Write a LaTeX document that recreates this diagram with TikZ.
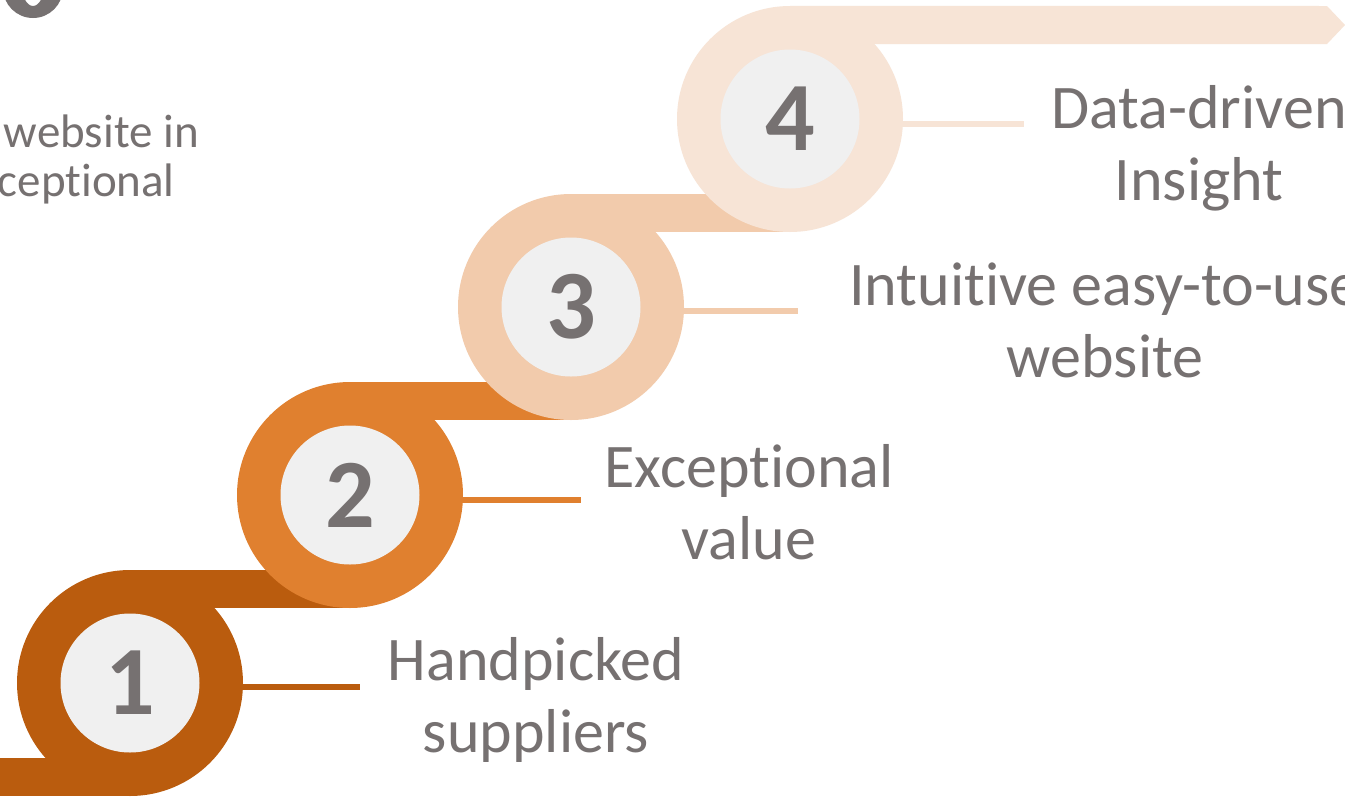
\documentclass[tikz,border=0pt]{standalone}
\usepackage{fontspec}
\setmainfont{Carlito}[Ligatures=NoCommon]
\definecolor{cA}{HTML}{BA5C0E}
\definecolor{cB}{HTML}{E0802F}
\definecolor{cC}{HTML}{F2CBAC}
\definecolor{cD}{HTML}{F7E4D6}
\definecolor{discfill}{HTML}{F0F0F0}
\definecolor{txt}{HTML}{767171}
\pgfdeclarelayer{bg}
\pgfsetlayers{bg,main}
\begin{document}
\begin{tikzpicture}[x=1pt,y=-1pt,
  ring/.style={circle,minimum size=226pt,inner sep=0pt,fill=#1},
  disc/.style={circle,minimum size=139pt,inner sep=0pt,fill=discfill,text=txt,
    font=\fontsize{98}{98}\selectfont\bfseries},
  lead/.style={line width=6pt,draw=#1},
  lbl/.style={align=center,anchor=base,inner sep=0pt,text=txt,
    font=\fontsize{62}{72.5}\selectfont},
  side/.style={anchor=base east,inner sep=0pt,text=txt,
    font=\fontsize{47}{48}\selectfont}]
\useasboundingbox (0,0) rectangle (1345,801);

% circles
\node[ring=cA] (s1) at (130,683) {};
\node[disc] (n1) at (s1) {1};
\node[ring=cB] (s2) at (350,495) {};
\node[disc] (n2) at (s2) {2};
\node[ring=cC] (s3) at (571,307) {};
\node[disc] (n3) at (s3) {3};
\node[ring=cD] (s4) at (790,119) {};
\node[disc] (n4) at (s4) {4};

% leader ends and arrow tip
\coordinate (e1) at (360,687);
\coordinate (e2) at (581,500);
\coordinate (e3) at (798,311);
\coordinate (e4) at (1024,124);
\coordinate (start) at (0,758);
\coordinate (tipA) at (1327,6);
\coordinate (tip) at (1345,25);
\coordinate (tipB) at (1327,44);

\begin{pgfonlayer}{bg}
  \fill[white] (0,0) rectangle (1345,801);
  \fill[cA] (start) rectangle (s1.south);
  \fill[cA] (s1.north) rectangle (s2.south);
  \fill[cB] (s2.north) rectangle (s3.south);
  \fill[cC] (s3.north) rectangle (s4.south);
  \fill[cD] (s4.north) -- (tipA) -- (tip) -- (tipB) -- (s4.north |- tipB) -- cycle;
  \draw[lead=cA] (s1.center |- e1) -- (e1);
  \draw[lead=cB] (s2.center |- e2) -- (e2);
  \draw[lead=cC] (s3.center |- e3) -- (e3);
  \draw[lead=cD] (s4.center |- e4) -- (e4);
\end{pgfonlayer}

% labels (anchored at the baseline of their last line)
\node[lbl] (t1) at (536,752.5) {Handpicked\\suppliers};
\node[lbl] (t2) at (749,559.5) {Exceptional\\value};
\node[lbl] (t3) at (1105,377.5) {Intuitive easy-to-use\\website};
\node[lbl] (t4) at (1199,200.5) {Data-driven\\Insight};

% cut-off text at the top left
\node[side] (l1) at (199,147) {website in};
\node[side] (l2) at (175,196) {ceptional};
\fill[txt,even odd rule] (33,-12) ellipse [x radius=30,y radius=30]
  (33,-14) ellipse [x radius=11,y radius=20];
\end{tikzpicture}
\end{document}
